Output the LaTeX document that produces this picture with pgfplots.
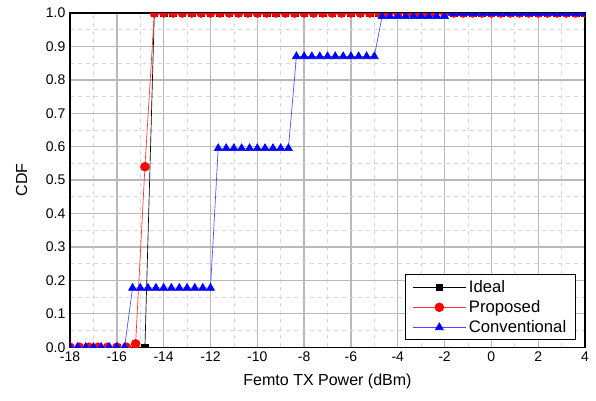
\documentclass[border=0pt]{standalone}
\usepackage{pgfplots}
\pgfplotsset{compat=1.18}
\usepackage{fontspec}
\setmainfont{Liberation Sans}

\definecolor{majgrid}{RGB}{185,185,185}
\definecolor{mingrid}{RGB}{215,215,215}
\definecolor{convblue}{RGB}{0,0,255}

\begin{document}
\begin{tikzpicture}
\begin{axis}[
    width=386pt, height=250.5pt,
    scale only axis,
    xmin=-18, xmax=4, ymin=0, ymax=1,
    xtick={-18,-16,...,4},
    minor x tick num=1,
    ytick={0,0.1,...,1.0},
    minor y tick num=1,
    yticklabel style={/pgf/number format/.cd, fixed, fixed zerofill, precision=1},
    /pgf/number format/assume math mode=true,
    tick label style={font=\fontsize{10.5}{12}\selectfont},
    major tick length=0pt, minor tick length=0pt,
    grid=both,
    major grid style={majgrid, line width=1pt},
    minor grid style={mingrid, dashed, line width=0.5pt},
    axis line style={black, line width=0.9pt},
    xlabel={Femto TX Power (dBm)},
    ylabel={CDF},
    label style={font=\fontsize{12}{14}\selectfont},
    xlabel style={yshift=-2pt},
    ylabel style={yshift=7pt},
    clip marker paths=true,
    legend style={at={(0.9825,0.021)}, anchor=south east,
        font=\fontsize{12.5}{14}\selectfont, draw=black, line width=0.6pt,
        row sep=0.5pt, inner xsep=5pt, inner ysep=2pt},
    legend cell align=left,
    legend image code/.code={%
        \draw[mark repeat=2,mark phase=2] plot coordinates {(0cm,0cm)(0.7cm,0cm)(1.4cm,0cm)};},
]

% Ideal
\addplot[black, line width=0.5pt, mark=square*, mark size=2.4pt, mark options={solid, fill=black}] coordinates {
(-18,0) (-17.6,0) (-17.2,0) (-16.8,0) (-16.4,0) (-16,0) (-15.6,0) (-15.2,0) (-14.8,0)
(-14.4,1) (-14,1) (-13.6,1) (-13.2,1) (-12.8,1) (-12.4,1) (-12,1) (-11.6,1) (-11.2,1)
(-10.8,1) (-10.4,1) (-10,1) (-9.6,1) (-9.2,1) (-8.8,1) (-8.4,1) (-8,1) (-7.6,1) (-7.2,1)
(-6.8,1) (-6.4,1) (-6,1) (-5.6,1) (-5.2,1) (-4.8,1) (-4.4,1) (-4,1) (-3.6,1) (-3.2,1)
(-2.8,1) (-2.4,1) (-2,1) (-1.6,1) (-1.2,1) (-0.8,1) (-0.4,1) (0,1) (0.4,1) (0.8,1)
(1.2,1) (1.6,1) (2,1) (2.4,1) (2.8,1) (3.2,1) (3.6,1) (4,1)
};

% Proposed
\addplot[red!80, line width=0.5pt, mark=*, mark size=3.3pt, mark options={solid, fill=red, draw=red}] coordinates {
(-18,0) (-17.6,0) (-17.2,0) (-16.8,0) (-16.4,0) (-16,0) (-15.6,0) (-15.2,0.01) (-14.8,0.54)
(-14.4,1) (-14,1) (-13.6,1) (-13.2,1) (-12.8,1) (-12.4,1) (-12,1) (-11.6,1) (-11.2,1)
(-10.8,1) (-10.4,1) (-10,1) (-9.6,1) (-9.2,1) (-8.8,1) (-8.4,1) (-8,1) (-7.6,1) (-7.2,1)
(-6.8,1) (-6.4,1) (-6,1) (-5.6,1) (-5.2,1) (-4.8,1) (-4.4,1) (-4,1) (-3.6,1) (-3.2,1)
(-2.8,1) (-2.4,1) (-2,1) (-1.6,1) (-1.2,1) (-0.8,1) (-0.4,1) (0,1) (0.4,1) (0.8,1)
(1.2,1) (1.6,1) (2,1) (2.4,1) (2.8,1) (3.2,1) (3.6,1) (4,1)
};

% Conventional
\addplot[convblue!70, line width=0.5pt, mark=triangle*, mark size=3.4pt, mark options={solid, fill=convblue, draw=convblue}] coordinates {
(-18,0) (-17.67,0) (-17.33,0) (-17,0) (-16.67,0) (-16.33,0) (-16,0) (-15.67,0)
(-15.33,0.177) (-15,0.177) (-14.67,0.177) (-14.33,0.177) (-14,0.177) (-13.67,0.177)
(-13.33,0.177) (-13,0.177) (-12.67,0.177) (-12.33,0.177) (-12,0.177)
(-11.67,0.595) (-11.33,0.595) (-11,0.595) (-10.67,0.595) (-10.33,0.595) (-10,0.595)
(-9.67,0.595) (-9.33,0.595) (-9,0.595) (-8.67,0.595)
(-8.33,0.87) (-8,0.87) (-7.67,0.87) (-7.33,0.87) (-7,0.87) (-6.67,0.87) (-6.33,0.87)
(-6,0.87) (-5.67,0.87) (-5.33,0.87) (-5,0.87)
(-4.67,0.99) (-4.33,0.99) (-4,0.99) (-3.67,0.99) (-3.33,0.99) (-3,0.99) (-2.67,0.99)
(-2.33,0.99) (-2,0.99)
(-1.67,1) (-1.33,1) (-1,1) (-0.67,1) (-0.33,1) (0,1) (0.33,1) (0.67,1) (1,1) (1.33,1)
(1.67,1) (2,1) (2.33,1) (2.67,1) (3,1) (3.33,1) (3.67,1) (4,1)
};

\legend{Ideal, Proposed, Conventional}
\end{axis}
\path ([shift={(-52.5pt,-39.75pt)}]current axis.south west) rectangle ([shift={(8.25pt,9.75pt)}]current axis.north east);
\end{tikzpicture}
\end{document}
